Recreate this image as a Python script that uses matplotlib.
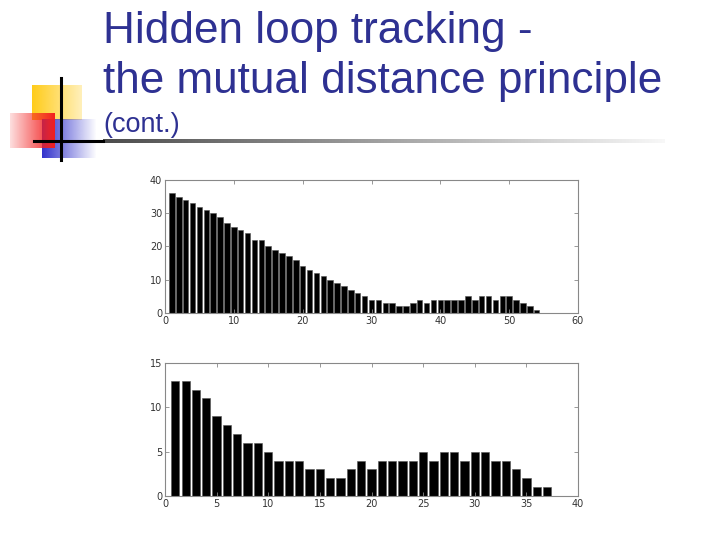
import numpy as np
import matplotlib
matplotlib.use("Agg")
import matplotlib.pyplot as plt

# ---- data ----
top_values = [36, 35, 34, 33, 32, 31, 30, 29, 27, 26, 25, 24, 22, 22, 20, 19, 18, 17,
              16, 14, 13, 12, 11, 10, 9, 8, 7, 6, 5, 4, 4, 3, 3, 2, 2, 3, 4, 3, 4, 4,
              4, 4, 4, 5, 4, 5, 5, 4, 5, 5, 4, 3, 2, 1]
bottom_values = [13, 13, 12, 11, 9, 8, 7, 6, 6, 5, 4, 4, 4, 3, 3, 2, 2, 3, 4, 3, 4, 4,
                 4, 4, 5, 4, 5, 5, 4, 5, 5, 4, 4, 3, 2, 1, 1]
top_xticks = [0, 10, 20, 30, 40, 50, 60]
top_yticks = [0, 10, 20, 30, 40]
bottom_xticks = [0, 5, 10, 15, 20, 25, 30, 35, 40]
bottom_yticks = [0, 5, 10, 15]
title_line1 = "Hidden loop tracking -"
title_line2 = "the mutual distance principle"
subtitle = "(cont.)"

W, H = 720, 540
fig = plt.figure(figsize=(7.2, 5.4), dpi=100)
fig.patch.set_facecolor("white")

# background decoration axes in pixel coordinates
bg = fig.add_axes([0, 0, 1, 1])
bg.set_xlim(0, W)
bg.set_ylim(H, 0)
bg.axis("off")

def grad_rect(x0, x1, y0, y1, rgb, a_left, a_right, z):
    n = 64
    img = np.zeros((2, n, 4))
    img[..., 0] = rgb[0]
    img[..., 1] = rgb[1]
    img[..., 2] = rgb[2]
    img[..., 3] = np.linspace(a_left, a_right, n)[None, :]
    bg.imshow(img, extent=(x0, x1, y1, y0), aspect="auto", zorder=z,
              interpolation="bilinear")

# yellow square
grad_rect(32, 82, 85, 120, (1.0, 0.80, 0.1), 1.0, 0.3, 1)
# blue rect (blue left -> fading right)
grad_rect(42, 97, 119, 158, (0.2, 0.2, 0.8), 1.0, 0.0, 2)
# red rect (light left -> red right)
grad_rect(10, 55, 113, 148, (0.95, 0.12, 0.12), 0.15, 1.0, 3)
# black lines
bg.plot([61, 61], [78, 160], color="black", lw=2.2, zorder=5)
bg.plot([34, 103], [141, 141], color="black", lw=2.2, zorder=5)
# title underline with gradient (dark -> light)
n = 128
line_img = np.ones((2, n, 4))
g = np.linspace(0.3, 0.97, n)
line_img[..., 0] = g
line_img[..., 1] = g
line_img[..., 2] = g
bg.imshow(line_img, extent=(103, 665, 143, 139.5), aspect="auto", zorder=4,
          interpolation="bilinear")

title_color = "#2e3192"
fig.text(103 / W, 1 - 43 / H, title_line1, fontsize=31.8, color=title_color,
         family="Liberation Sans", va="baseline", ha="left")
fig.text(103 / W, 1 - 93 / H, title_line2, fontsize=31.8, color=title_color,
         family="Liberation Sans", va="baseline", ha="left")
fig.text(103 / W, 1 - 132 / H, subtitle, fontsize=19.5, color=title_color,
         family="Liberation Sans", va="baseline", ha="left")

def make_axes(rect_px, values, xlim, ylim, xticks, yticks):
    x0, y0, x1, y1 = rect_px
    ax = fig.add_axes([x0 / W, 1 - y1 / H, (x1 - x0) / W, (y1 - y0) / H])
    xs = np.arange(1, len(values) + 1)
    ax.bar(xs, values, width=0.8, color="black", edgecolor="#555555", linewidth=0.4)
    ax.set_xlim(*xlim)
    ax.set_ylim(*ylim)
    ax.set_xticks(xticks)
    ax.set_yticks(yticks)
    ax.tick_params(direction="in", length=3, width=0.6, labelsize=7,
                   colors="#888888", labelcolor="#333333", top=True, right=True,
                   pad=2)
    for s in ax.spines.values():
        s.set_color("#888888")
        s.set_linewidth(0.8)
    return ax

make_axes((165, 180, 578, 313), top_values, (0, 60), (0, 40), top_xticks, top_yticks)
make_axes((165, 363, 578, 496), bottom_values, (0, 40), (0, 15), bottom_xticks, bottom_yticks)

fig.savefig("out.png", dpi=100, facecolor="white")
